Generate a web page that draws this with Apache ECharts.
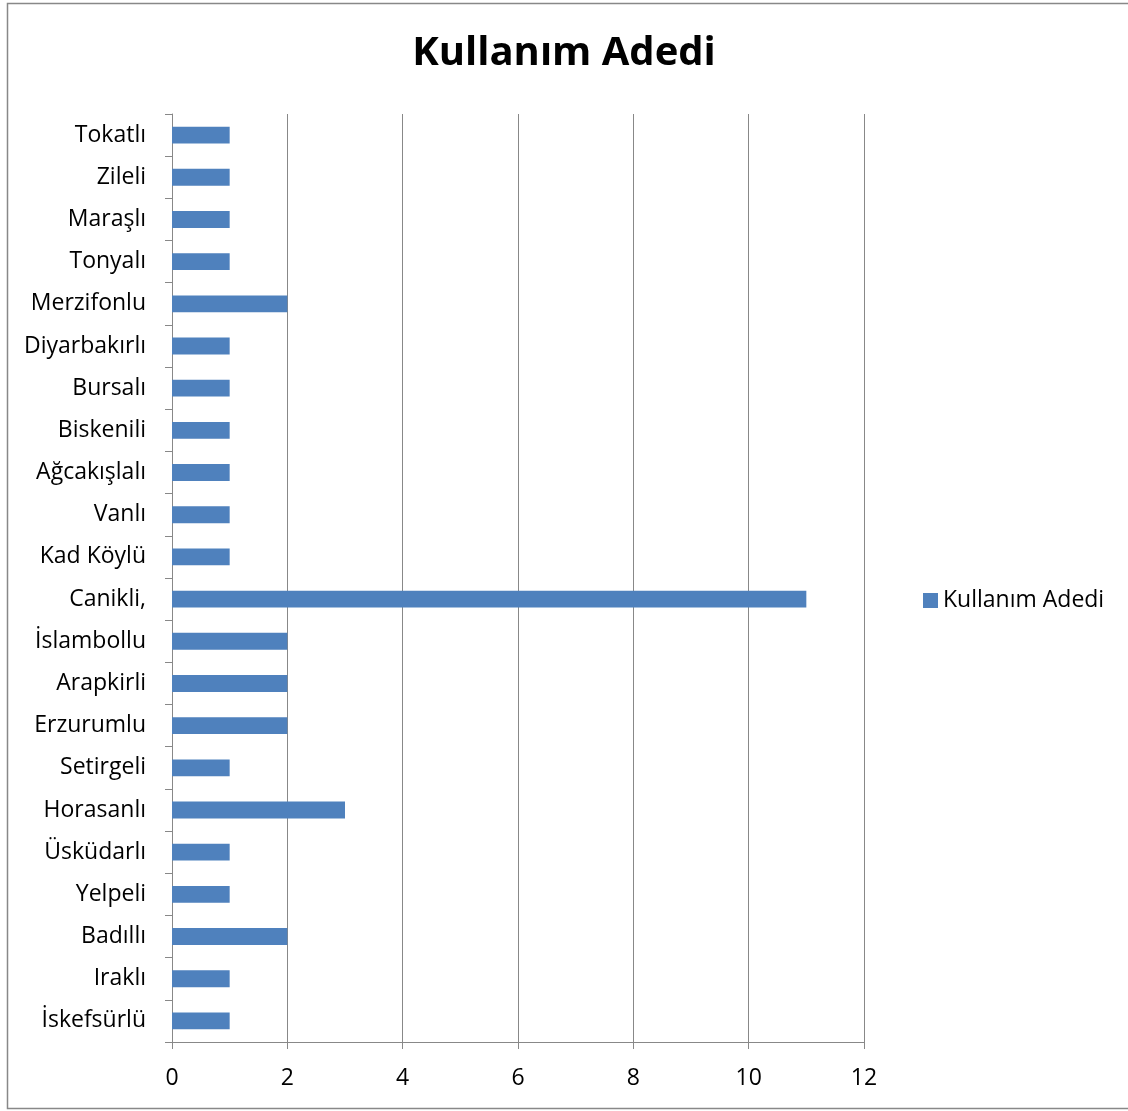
<!DOCTYPE html>
<html>
<head>
<meta charset="utf-8">
<script src="https://cdn.jsdelivr.net/npm/echarts@6/dist/echarts.min.js"></script>
<style>
  html, body { margin: 0; padding: 0; background: #fff; }
  #chart { width: 1128px; height: 1111px; }
</style>
</head>
<body>
<div id="chart"></div>
<script>
// kategoriler (alttan üste)
var categories = ['İskefsürlü', 'Iraklı', 'Badıllı', 'Yelpeli', 'Üsküdarlı', 'Horasanlı', 'Setirgeli',
  'Erzurumlu', 'Arapkirli', 'İslambollu', 'Canikli,', 'Kad Köylü', 'Vanlı', 'Ağcakışlalı', 'Biskenili',
  'Bursalı', 'Diyarbakırlı', 'Merzifonlu', 'Tonyalı', 'Maraşlı', 'Zileli', 'Tokatlı'];
var values = [1, 1, 2, 1, 1, 3, 1, 2, 2, 2, 11, 1, 1, 1, 1, 1, 1, 2, 1, 1, 1, 1];
var xTicks = [0, 2, 4, 6, 8, 10, 12];
var seriesName = 'Kullanım Adedi';

var font = '"Open Sans", sans-serif';
var chart = echarts.init(document.getElementById('chart'));

chart.setOption({
  animation: false,
  backgroundColor: '#fff',
  textStyle: { fontFamily: font },
  title: {
    text: seriesName,
    left: 'center',
    top: 29,
    textStyle: { fontSize: 40, fontWeight: 'bold', color: '#000', fontFamily: font }
  },
  legend: {
    data: [seriesName],
    left: 918,
    top: 584,
    icon: 'rect',
    itemWidth: 15,
    itemHeight: 15,
    itemGap: 8,
    textStyle: { fontSize: 23, color: '#000', fontFamily: font }
  },
  graphic: [{
    type: 'rect',
    shape: { x: 7.5, y: 3.5, width: 1130, height: 1105 },
    style: { fill: 'none', stroke: '#888', lineWidth: 1.5 },
    silent: true
  }],
  grid: { left: 172, right: 264, top: 114, bottom: 69 },
  xAxis: {
    type: 'value',
    min: xTicks[0],
    max: xTicks[xTicks.length - 1],
    interval: 2,
    axisLine: { show: true, lineStyle: { color: '#888' } },
    axisTick: { show: true, length: 7, lineStyle: { color: '#888' } },
    axisLabel: { fontSize: 23, color: '#000', margin: 25, fontFamily: font },
    splitLine: { show: true, lineStyle: { color: '#888', width: 1 } }
  },
  yAxis: {
    type: 'category',
    data: categories,
    axisLine: { show: true, lineStyle: { color: '#888' } },
    axisTick: { show: true, length: 7, lineStyle: { color: '#888' } },
    axisLabel: { fontSize: 23, color: '#000', margin: 26, fontFamily: font, padding: [3, 0, 0, 0] },
    splitLine: { show: false }
  },
  series: [{
    name: seriesName,
    type: 'bar',
    data: values,
    barCategoryGap: '60%',
    itemStyle: { color: '#4F81BD' }
  }]
});
</script>
</body>
</html>
